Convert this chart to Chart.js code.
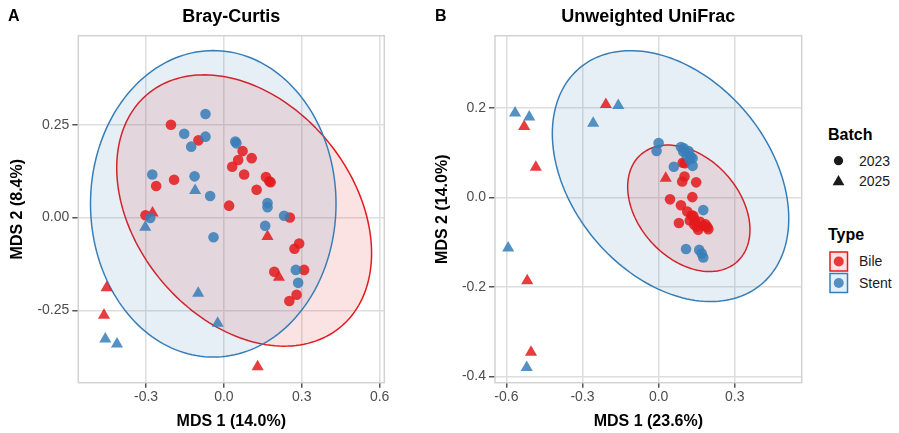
<!DOCTYPE html>
<html><head><meta charset="utf-8">
<script src="https://cdn.jsdelivr.net/npm/chart.js@4.4.0/dist/chart.umd.min.js"></script>
<style>
body{margin:0;width:899px;height:433px;background:#fff;overflow:hidden;position:relative;font-family:"Liberation Sans",Arial,Helvetica,sans-serif;color:#1a1a1a}
canvas{position:absolute;top:0}
#cA{left:0}
#cB{left:420px}
.t{position:absolute;white-space:nowrap}
.tag{font-weight:bold;font-size:16px;line-height:16px;color:#000}
.lh{font-weight:bold;font-size:16px;line-height:16px;color:#000}
.li{font-size:14px;line-height:14px;color:#1a1a1a}
svg{position:absolute}
</style></head><body>
<canvas id="cA" width="420" height="433"></canvas>
<canvas id="cB" width="400" height="433"></canvas>
<div class="t tag" style="left:8px;top:7.5px">A</div>
<div class="t tag" style="left:435px;top:7.5px">B</div>

<div class="t lh" style="left:828px;top:126.5px">Batch</div>
<svg style="left:829px;top:151px" width="20" height="40">
  <circle cx="9.5" cy="9.7" r="4.6" fill="#1a1a1a"/>
  <polygon points="9.5,24 15.4,34.3 3.6,34.3" fill="#1a1a1a"/>
</svg>
<div class="t li" style="left:859px;top:153.9px">2023</div>
<div class="t li" style="left:859px;top:174.2px">2025</div>

<div class="t lh" style="left:828px;top:227.2px">Type</div>
<svg style="left:829px;top:251px" width="22" height="44">
  <rect x="1" y="1" width="17.5" height="19" fill="rgba(228,26,28,0.12)" stroke="#E41A1C" stroke-width="1.5"/>
  <circle cx="9.75" cy="10.5" r="5" fill="rgba(228,26,28,0.85)"/>
  <rect x="1" y="22.5" width="17.5" height="19" fill="rgba(55,126,184,0.12)" stroke="#377EB8" stroke-width="1.5"/>
  <circle cx="9.75" cy="32" r="5" fill="rgba(55,126,184,0.85)"/>
</svg>
<div class="t li" style="left:859px;top:254.2px">Bile</div>
<div class="t li" style="left:859px;top:276.2px">Stent</div>

<script>
// ---------- DATA ----------
const panelTitles = ['Bray-Curtis', 'Unweighted UniFrac'];
const xAxisTitles = ['MDS 1 (14.0%)', 'MDS 1 (23.6%)'];
const yAxisTitles = ['MDS 2 (8.4%)', 'MDS 2 (14.0%)'];
const typeNames = ['Bile', 'Stent'];
const batchNames = ['2023', '2025'];

const xTicksA = [-0.3, 0.0, 0.3, 0.6];
const xTickLabelsA = ['-0.3', '0.0', '0.3', '0.6'];
const yTicksA = [-0.25, 0.0, 0.25];
const yTickLabelsA = ['-0.25', '0.00', '0.25'];
const xTicksB = [-0.6, -0.3, 0.0, 0.3];
const xTickLabelsB = ['-0.6', '-0.3', '0.0', '0.3'];
const yTicksB = [-0.4, -0.2, 0.0, 0.2];
const yTickLabelsB = ['-0.4', '-0.2', '0.0', '0.2'];

// Panel A: Bray-Curtis  [MDS1, MDS2]
const bileA2023 = [[-0.204,0.250],[-0.098,0.208],[-0.192,0.102],[-0.261,0.085],[-0.302,0.006],[0.020,0.032],
  [0.072,0.179],[0.107,0.160],[0.055,0.155],[0.032,0.137],[0.078,0.116],[0.162,0.109],[0.180,0.095],[0.175,0.098],
  [0.126,0.075],[0.254,0.000],[0.290,-0.070],[0.272,-0.084],[0.194,-0.146],[0.309,-0.141],[0.280,-0.208],[0.252,-0.225]];
const bileA2025 = [[-0.275,0.012],[0.168,-0.051],[0.212,-0.161],[-0.452,-0.189],[-0.462,-0.263],[0.130,-0.402]];
const stentA2023 = [[-0.071,0.279],[-0.153,0.226],[-0.071,0.218],[-0.126,0.191],[0.044,0.205],[0.048,0.200],
  [-0.276,0.116],[-0.113,0.111],[-0.053,0.058],[-0.284,-0.001],[-0.040,-0.053],[0.168,0.039],[0.168,0.028],
  [0.232,0.005],[0.159,-0.022],[0.277,-0.141],[0.286,-0.176]];
const stentA2025 = [[-0.111,0.073],[-0.303,-0.026],[-0.099,-0.204],[-0.024,-0.285],[-0.457,-0.327],[-0.412,-0.341]];

// Panel B: Unweighted UniFrac
const bileB2023 = [[0.095,0.078],[0.104,0.077],[0.102,0.047],[0.093,0.036],[0.148,0.034],[0.045,-0.004],
  [0.133,0.001],[0.088,-0.017],[0.113,-0.031],[0.137,-0.041],[0.143,-0.050],[0.123,-0.051],[0.080,-0.057],
  [0.163,-0.054],[0.150,-0.065],[0.176,-0.063],[0.192,-0.066],[0.196,-0.071],[0.156,-0.072],[0.130,-0.040],
  [0.185,-0.060],[0.140,-0.060]];
const bileB2025 = [[-0.530,0.159],[-0.208,0.208],[-0.484,0.068],[0.028,0.043],[-0.518,-0.186],[-0.503,-0.346]];
const stentB2023 = [[0.000,0.122],[-0.008,0.104],[0.088,0.113],[0.097,0.103],[0.118,0.104],[0.134,0.088],
  [0.126,0.092],[0.134,0.071],[0.060,0.069],[0.176,-0.028],[0.108,-0.115],[0.160,-0.117],[0.170,-0.125],
  [0.176,-0.134],[0.110,0.095],[0.122,0.085],[0.100,0.110]];
const stentB2025 = [[-0.566,0.189],[-0.510,0.180],[-0.159,0.206],[-0.258,0.166],[-0.593,-0.113],[-0.520,-0.380]];

// 95% ellipses: [centerX, centerY, u_x, u_y, v_x, v_y] (data units)
const ellipseA_bile  = [0.078, 0.019, 0.491, -0.115, 0.0, 0.347];
const ellipseA_stent = [-0.041, 0.037, 0.473, 0.0, 0.0, 0.413];
const ellipseB_bile  = [0.119, -0.024, 0.241, -0.048, 0.0, 0.133];
const ellipseB_stent = [0.047, 0.048, 0.466, -0.095, 0.0, 0.264];

// ---------- STYLE ----------
const RED = '#E41A1C', BLUE = '#377EB8';
const RED_PT = 'rgba(228,26,28,0.85)', BLUE_PT = 'rgba(55,126,184,0.85)';
const RED_FILL = 'rgba(228,26,28,0.12)', BLUE_FILL = 'rgba(55,126,184,0.12)';
const FONT = "'Liberation Sans', Arial, Helvetica, sans-serif";

const toXY = arr => arr.map(p => ({x: p[0], y: p[1]}));

const ellipsePlugin = {
  id: 'ellipses',
  beforeDatasetsDraw(chart, args, opts) {
    const {ctx, chartArea, scales} = chart;
    ctx.save();
    ctx.beginPath();
    ctx.rect(chartArea.left, chartArea.top, chartArea.width, chartArea.height);
    ctx.clip();
    for (const it of opts.items) {
      const [cx, cy, ux, uy, vx, vy] = it.params;
      ctx.beginPath();
      const N = 180;
      for (let i = 0; i <= N; i++) {
        const t = i / N * Math.PI * 2;
        const dx = cx + ux * Math.cos(t) + vx * Math.sin(t);
        const dy = cy + uy * Math.cos(t) + vy * Math.sin(t);
        const px = scales.x.getPixelForValue(dx), py = scales.y.getPixelForValue(dy);
        if (i === 0) ctx.moveTo(px, py); else ctx.lineTo(px, py);
      }
      ctx.closePath();
      ctx.fillStyle = it.fill;
      ctx.fill();
      ctx.lineWidth = 1.5;
      ctx.strokeStyle = it.stroke;
      ctx.stroke();
    }
    ctx.restore();
  },
  afterDraw(chart) {
    const {ctx, chartArea} = chart;
    ctx.save();
    ctx.strokeStyle = '#d2d2d2';
    ctx.lineWidth = 1.5;
    ctx.strokeRect(chartArea.left, chartArea.top, chartArea.width, chartArea.height);
    ctx.restore();
  }
};

function makeChart(id, cfg) {
  const ds = (label, data, color, style, r) => ({
    label, data: toXY(data), backgroundColor: color, borderWidth: 0,
    pointStyle: style, pointRadius: r, pointHoverRadius: r
  });
  return new Chart(document.getElementById(id), {
    type: 'scatter',
    data: {
      datasets: [
        ds(typeNames[1] + ' ' + batchNames[0], cfg.s23, BLUE_PT, 'circle', 5.3),
        ds(typeNames[1] + ' ' + batchNames[1], cfg.s25, BLUE_PT, 'triangle', 7),
        ds(typeNames[0] + ' ' + batchNames[0], cfg.b23, RED_PT, 'circle', 5.3),
        ds(typeNames[0] + ' ' + batchNames[1], cfg.b25, RED_PT, 'triangle', 7)
      ]
    },
    options: {
      responsive: false, animation: false, devicePixelRatio: 1,
      layout: {padding: {left: 0, right: cfg.padRight, top: 0, bottom: 0}},
      plugins: {
        legend: {display: false}, tooltip: {enabled: false},
        title: {display: true, text: cfg.title, fullSize: false, color: '#000',
          font: {family: FONT, size: 18, weight: 'bold', lineHeight: 1.2},
          padding: {top: 6, bottom: 8.1}},
        ellipses: {items: [
          {params: cfg.eBile, fill: RED_FILL, stroke: RED},
          {params: cfg.eStent, fill: BLUE_FILL, stroke: BLUE}
        ]}
      },
      scales: {
        x: {
          type: 'linear', min: cfg.xMin, max: cfg.xMax,
          afterBuildTicks: s => { s.ticks = cfg.xTicks.map(v => ({value: v})); },
          afterFit: s => { s.height = 50.3; },
          ticks: {callback: (v, i) => cfg.xLabels[i], color: '#4d4d4d', padding: 1.5,
            font: {family: FONT, size: 14}, maxRotation: 0, autoSkip: false},
          grid: {color: '#dedede', lineWidth: 1.5, tickColor: '#555', tickLength: 5, drawTicks: true},
          border: {display: false},
          title: {display: true, text: cfg.xTitle, color: '#000', padding: {top: 0, bottom: 1.4},
            font: {family: FONT, size: 16, weight: 'bold', lineHeight: 1.2}}
        },
        y: {
          type: 'linear', min: cfg.yMin, max: cfg.yMax,
          afterBuildTicks: s => { s.ticks = cfg.yTicks.map(v => ({value: v})); },
          afterFit: s => { s.width = cfg.yWidth; },
          ticks: {callback: (v, i) => cfg.yLabels[i], color: '#4d4d4d', padding: 3,
            font: {family: FONT, size: 14}, autoSkip: false},
          grid: {color: '#dedede', lineWidth: 1.5, tickColor: '#555', tickLength: 6, drawTicks: true},
          border: {display: false},
          title: {display: true, text: cfg.yTitle, color: '#000', padding: {top: cfg.yTitlePad, bottom: 0},
            font: {family: FONT, size: 16, weight: 'bold', lineHeight: 1.2}}
        }
      }
    },
    plugins: [ellipsePlugin]
  });
}

makeChart('cA', {
  title: panelTitles[0], xTitle: xAxisTitles[0], yTitle: yAxisTitles[0],
  b23: bileA2023, b25: bileA2025, s23: stentA2023, s25: stentA2025,
  eBile: ellipseA_bile, eStent: ellipseA_stent,
  xMin: -0.561, xMax: 0.618, yMin: -0.445, yMax: 0.490,
  xTicks: xTicksA, xLabels: xTickLabelsA, yTicks: yTicksA, yLabels: yTickLabelsA,
  padRight: 35.7, yWidth: 78.3, yTitlePad: 8
});
makeChart('cB', {
  title: panelTitles[1], xTitle: xAxisTitles[1], yTitle: yAxisTitles[1],
  b23: bileB2023, b25: bileB2025, s23: stentB2023, s25: stentB2025,
  eBile: ellipseB_bile, eStent: ellipseB_stent,
  xMin: -0.645, xMax: 0.564, yMin: -0.414, yMax: 0.362,
  xTicks: xTicksB, xLabels: xTickLabelsB, yTicks: yTicksB, yLabels: yTickLabelsB,
  padRight: 18.3, yWidth: 75, yTitlePad: 12.9
});
</script>
</body></html>
